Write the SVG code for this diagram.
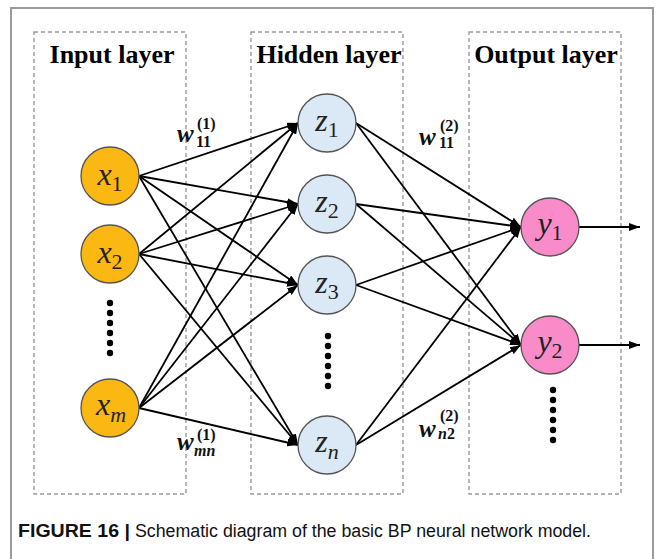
<svg xmlns="http://www.w3.org/2000/svg" width="664" height="559" viewBox="0 0 664 559">
<defs>
<marker id="ah" markerUnits="userSpaceOnUse" markerWidth="11" markerHeight="8" refX="11" refY="4" orient="auto"><path d="M0,0 L11,4 L0,8 z" fill="#000"/></marker>
<style>
.frame{fill:#fff;stroke:#9a9a9a;stroke-width:2}
.box{fill:none;stroke:#9a9a9a;stroke-width:1.4;stroke-dasharray:4 3}
.title{font-family:"Liberation Serif",serif;font-weight:bold;font-size:26px;text-anchor:middle;fill:#000}
.edge{stroke:#000;stroke-width:1.8;fill:none;marker-end:url(#ah)}
.nx{fill:#FBB812;stroke:#555;stroke-width:1.3}
.nz{fill:#DBE8F5;stroke:#555;stroke-width:1.3}
.ny{fill:#F98BC9;stroke:#555;stroke-width:1.3}
.lbl{font-family:"Liberation Serif",serif;font-style:italic;font-size:32px;text-anchor:middle;fill:#222}
.sub{font-style:normal;font-size:22px}
.subi{font-style:italic;font-size:22px}
.dot{fill:#000}
.w{font-family:"Liberation Serif",serif;font-weight:bold;font-style:italic;font-size:25px;fill:#111}
.ws{font-family:"Liberation Serif",serif;font-weight:bold;font-size:16px;fill:#111}
.wi{font-style:italic}
.cap{font-family:"Liberation Sans",Arial,sans-serif;font-size:18px;fill:#111}
</style>
</defs>
<rect class="frame" x="11" y="8" width="642" height="600"/>
<g id="layer-boxes">
<rect class="box" x="34" y="32" width="152" height="462"/>
<rect class="box" x="251" y="32" width="152" height="462"/>
<rect class="box" x="469" y="32" width="152" height="462"/>
</g>
<g id="titles">
<text class="title" x="112" y="63">Input layer</text>
<text class="title" x="329" y="63">Hidden layer</text>
<text class="title" x="546" y="63">Output layer</text>
</g>
<g id="connectors">
<line class="edge" x1="139" y1="176" x2="298" y2="123"/>
<line class="edge" x1="139" y1="176" x2="298" y2="204"/>
<line class="edge" x1="139" y1="176" x2="298" y2="285"/>
<line class="edge" x1="139" y1="176" x2="298" y2="445"/>
<line class="edge" x1="139" y1="254" x2="298" y2="123"/>
<line class="edge" x1="139" y1="254" x2="298" y2="204"/>
<line class="edge" x1="139" y1="254" x2="298" y2="285"/>
<line class="edge" x1="139" y1="254" x2="298" y2="445"/>
<line class="edge" x1="139" y1="408" x2="298" y2="123"/>
<line class="edge" x1="139" y1="408" x2="298" y2="204"/>
<line class="edge" x1="139" y1="408" x2="298" y2="285"/>
<line class="edge" x1="139" y1="408" x2="298" y2="445"/>
<line class="edge" x1="356" y1="123" x2="521" y2="227"/>
<line class="edge" x1="356" y1="123" x2="521" y2="345"/>
<line class="edge" x1="356" y1="204" x2="521" y2="227"/>
<line class="edge" x1="356" y1="204" x2="521" y2="345"/>
<line class="edge" x1="356" y1="285" x2="521" y2="227"/>
<line class="edge" x1="356" y1="285" x2="521" y2="345"/>
<line class="edge" x1="356" y1="445" x2="521" y2="227"/>
<line class="edge" x1="356" y1="445" x2="521" y2="345"/>
<line class="edge" x1="579" y1="227" x2="640" y2="227"/>
<line class="edge" x1="579" y1="345" x2="640" y2="345"/>
</g>
<g id="x1"><circle class="nx" cx="110" cy="176" r="29"/><text class="lbl" x="110" y="185">x<tspan class="sub" dy="6">1</tspan></text></g>
<g id="x2"><circle class="nx" cx="110" cy="254" r="29"/><text class="lbl" x="110" y="263">x<tspan class="sub" dy="6">2</tspan></text></g>
<g id="xm"><circle class="nx" cx="110" cy="408" r="29"/><text class="lbl" x="111" y="415">x<tspan class="subi" dy="7">m</tspan></text></g>
<g id="z1"><circle class="nz" cx="327" cy="123" r="29"/><text class="lbl" x="327" y="131">z<tspan class="sub" dy="6">1</tspan></text></g>
<g id="z2"><circle class="nz" cx="327" cy="204" r="29"/><text class="lbl" x="327" y="212">z<tspan class="sub" dy="6">2</tspan></text></g>
<g id="z3"><circle class="nz" cx="327" cy="285" r="29"/><text class="lbl" x="327" y="293">z<tspan class="sub" dy="6">3</tspan></text></g>
<g id="zn"><circle class="nz" cx="327" cy="445" r="29"/><text class="lbl" x="327" y="452">z<tspan class="subi" dy="7">n</tspan></text></g>
<g id="y1"><circle class="ny" cx="550" cy="227" r="29"/><text class="lbl" x="550" y="234">y<tspan class="sub" dy="6">1</tspan></text></g>
<g id="y2"><circle class="ny" cx="550" cy="345" r="29"/><text class="lbl" x="550" y="352">y<tspan class="sub" dy="6">2</tspan></text></g>
<g id="dots-input">
<circle class="dot" cx="110" cy="303" r="3.2"/><circle class="dot" cx="110" cy="313" r="3.2"/><circle class="dot" cx="110" cy="323" r="3.2"/><circle class="dot" cx="110" cy="333" r="3.2"/><circle class="dot" cx="110" cy="343" r="3.2"/><circle class="dot" cx="110" cy="353" r="3.2"/>
</g>
<g id="dots-hidden">
<circle class="dot" cx="328" cy="336" r="3.2"/><circle class="dot" cx="328" cy="346" r="3.2"/><circle class="dot" cx="328" cy="356" r="3.2"/><circle class="dot" cx="328" cy="366" r="3.2"/><circle class="dot" cx="328" cy="376" r="3.2"/><circle class="dot" cx="328" cy="386" r="3.2"/>
</g>
<g id="dots-output">
<circle class="dot" cx="553" cy="390" r="3.2"/><circle class="dot" cx="553" cy="400" r="3.2"/><circle class="dot" cx="553" cy="410" r="3.2"/><circle class="dot" cx="553" cy="420" r="3.2"/><circle class="dot" cx="553" cy="430" r="3.2"/><circle class="dot" cx="553" cy="440" r="3.2"/>
</g>
<g id="weights">
<text class="w" x="177" y="142">w</text><text class="ws" x="197" y="129">(1)</text><text class="ws" x="196" y="147">11</text>
<text class="w" x="177" y="450">w</text><text class="ws" x="197" y="440">(1)</text><text class="ws wi" x="194" y="456">mn</text>
<text class="w" x="419" y="145">w</text><text class="ws" x="440" y="131">(2)</text><text class="ws" x="439" y="148">11</text>
<text class="w" x="419" y="437">w</text><text class="ws" x="440" y="421">(2)</text><text class="ws" x="438" y="439"><tspan class="wi">n</tspan>2</text>
</g>
<g id="caption">
<text class="cap" x="18" y="537" font-weight="bold" textLength="112" lengthAdjust="spacingAndGlyphs">FIGURE 16 |</text>
<text class="cap" x="135" y="537" textLength="456" lengthAdjust="spacingAndGlyphs">Schematic diagram of the basic BP neural network model.</text>
</g>
</svg>
